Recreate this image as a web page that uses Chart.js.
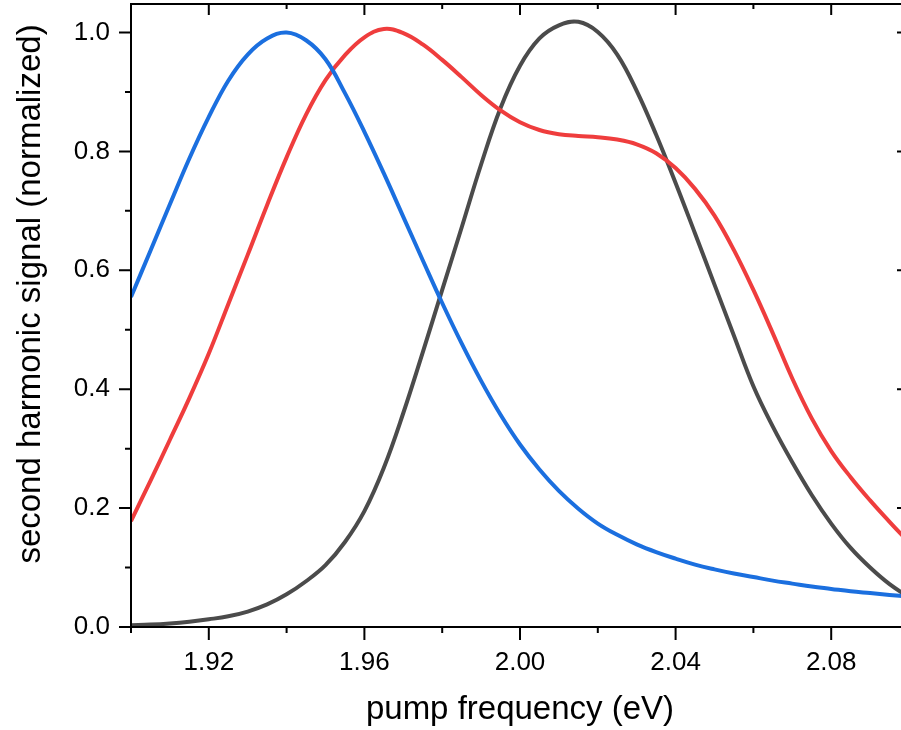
<!DOCTYPE html>
<html>
<head>
<meta charset="utf-8">
<script src="https://cdn.jsdelivr.net/npm/chart.js@4.4.1/dist/chart.umd.min.js"></script>
<style>
  html, body { margin: 0; padding: 0; background: #fff; overflow: hidden; }
  #wrap { position: relative; width: 920px; height: 730px; }
</style>
</head>
<body>
<div id="wrap"><canvas id="chart" width="920" height="730"></canvas></div>
<script>
// pump frequency (eV)
const freq = [
  1.900, 1.905, 1.910, 1.915, 1.920, 1.925, 1.930, 1.935, 1.940, 1.945,
  1.950, 1.955, 1.960, 1.965, 1.970, 1.975, 1.980, 1.985, 1.990, 1.995,
  2.000, 2.005, 2.010, 2.015, 2.020, 2.025, 2.030, 2.035, 2.040, 2.045,
  2.050, 2.055, 2.060, 2.065, 2.070, 2.075, 2.080, 2.085, 2.090, 2.095,
  2.100
];

// normalized second harmonic signal
const blueSignal = [
  0.555, 0.633, 0.711, 0.788, 0.858, 0.919, 0.963, 0.990, 1.000, 0.987,
  0.955, 0.898, 0.833, 0.763, 0.690, 0.617, 0.545, 0.477, 0.414, 0.357,
  0.307, 0.265, 0.229, 0.199, 0.174, 0.155, 0.139, 0.126, 0.115, 0.105,
  0.097, 0.090, 0.084, 0.078, 0.073, 0.068, 0.064, 0.060, 0.057, 0.054,
  0.051
];
const redSignal = [
  0.178, 0.246, 0.315, 0.385, 0.460, 0.543, 0.626, 0.710, 0.790, 0.862,
  0.920, 0.962, 0.992, 1.006, 0.999, 0.980, 0.954, 0.925, 0.895, 0.869,
  0.849, 0.836, 0.829, 0.826, 0.824, 0.820, 0.812, 0.797, 0.772, 0.737,
  0.692, 0.634, 0.567, 0.494, 0.418, 0.351, 0.296, 0.252, 0.213, 0.177,
  0.142
];
const blackSignal = [
  0.003, 0.004, 0.006, 0.009, 0.013, 0.018, 0.026, 0.038, 0.055, 0.077,
  0.104, 0.143, 0.195, 0.268, 0.360, 0.462, 0.567, 0.672, 0.778, 0.873,
  0.944, 0.990, 1.012, 1.018, 1.001, 0.963, 0.902, 0.828, 0.747, 0.662,
  0.576, 0.490, 0.405, 0.337, 0.277, 0.222, 0.174, 0.133, 0.100, 0.072,
  0.050
];

const yTitle = 'second harmonic signal (normalized)';
const xTitle = 'pump frequency (eV)';

Chart.defaults.font.family = 'Arial, "Liberation Sans", sans-serif';
Chart.defaults.color = '#000';

function toPoints(values) {
  return values.map((v, i) => ({ x: freq[i], y: v }));
}

function lineSet(values, color) {
  return {
    data: toPoints(values),
    borderColor: color,
    borderWidth: 4,
    pointRadius: 0,
    fill: false,
    tension: 0.4
  };
}

// frame, major / minor tick marks on all four sides, rotated y title
const frameTicks = {
  id: 'frameTicks',
  afterDraw(chart) {
    const { ctx, chartArea: a, scales: { x, y } } = chart;
    ctx.save();
    ctx.strokeStyle = '#000';
    ctx.lineWidth = 2;
    ctx.strokeRect(a.left, a.top, a.right - a.left, a.bottom - a.top);

    ctx.beginPath();
    x.ticks.forEach(t => {
      const px = x.getPixelForValue(t.value);
      const major = Math.round(t.value * 100) % 4 === 0;
      ctx.moveTo(px, a.bottom);
      ctx.lineTo(px, a.bottom + (major ? 13 : 6));
      ctx.moveTo(px, a.top);
      ctx.lineTo(px, a.top + (major ? 11 : 5));
    });
    y.ticks.forEach(t => {
      const py = y.getPixelForValue(t.value);
      const major = Math.round(t.value * 10) % 2 === 0;
      ctx.moveTo(a.left, py);
      ctx.lineTo(a.left - (major ? 12 : 6), py);
      ctx.moveTo(a.right, py);
      ctx.lineTo(a.right - (major ? 12 : 6), py);
    });
    ctx.stroke();

    ctx.translate(30.5, 294);
    ctx.rotate(-Math.PI / 2);
    ctx.font = '33px Arial, "Liberation Sans", sans-serif';
    ctx.fillStyle = '#000';
    ctx.textAlign = 'center';
    ctx.textBaseline = 'middle';
    ctx.fillText(yTitle, 0, 0);
    ctx.restore();
  }
};

const ctx = document.getElementById('chart').getContext('2d');
new Chart(ctx, {
  type: 'line',
  data: {
    datasets: [
      lineSet(blueSignal, '#1b6fdf'),
      lineSet(redSignal, '#ef3d3d'),
      lineSet(blackSignal, '#4b4b4b')
    ]
  },
  options: {
    responsive: false,
    animation: false,
    layout: { padding: { top: 4, right: 11, left: 0, bottom: 0 } },
    plugins: {
      legend: { display: false },
      tooltip: { enabled: false }
    },
    scales: {
      x: {
        type: 'linear',
        min: 1.90,
        max: 2.10,
        afterFit: s => { s.height = 103; s.paddingLeft = 0; s.paddingRight = 0; },
        border: { display: false },
        grid: { drawOnChartArea: false, tickLength: 13, tickColor: 'rgba(0,0,0,0)' },
        ticks: {
          stepSize: 0.02,
          autoSkip: false,
          maxRotation: 0,
          padding: 7,
          font: { size: 26 },
          callback: v => Math.round(v * 100) % 4 === 0 ? v.toFixed(2) : ''
        },
        title: {
          display: true,
          text: xTitle,
          font: { size: 33 },
          padding: { top: 0, bottom: 0 }
        }
      },
      y: {
        min: 0,
        max: 1.048,
        afterFit: s => { s.width = 131; s.paddingTop = 0; s.paddingBottom = 0; },
        border: { display: false },
        grid: { drawOnChartArea: false, tickLength: 12, tickColor: 'rgba(0,0,0,0)' },
        ticks: {
          stepSize: 0.1,
          includeBounds: false,
          padding: 9,
          font: { size: 26 },
          callback: v => Math.round(v * 10) % 2 === 0 ? v.toFixed(1) : ''
        },
        title: { display: false }
      }
    }
  },
  plugins: [frameTicks]
});
</script>
</body>
</html>
